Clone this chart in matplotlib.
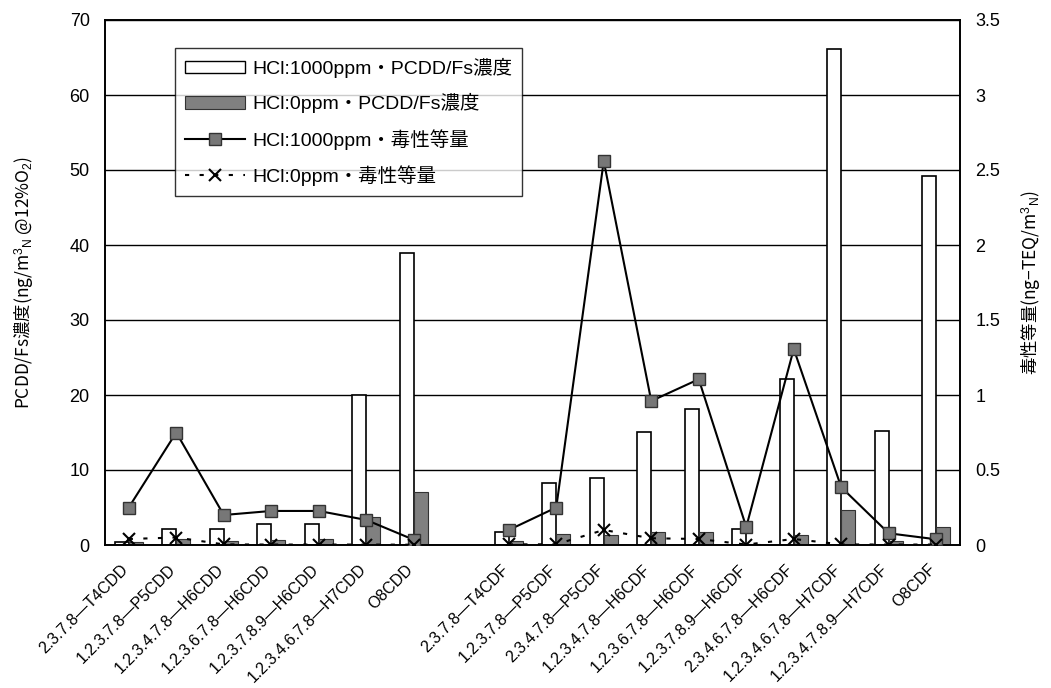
import numpy as np
import matplotlib
matplotlib.use("Agg")
import matplotlib.pyplot as plt
from matplotlib.patches import Patch
from matplotlib.lines import Line2D
from matplotlib.transforms import ScaledTranslation

plt.rcParams['font.family'] = ['Liberation Sans', 'Noto Sans CJK JP', 'DejaVu Sans']
plt.rcParams['mathtext.fontset'] = 'custom'
plt.rcParams['mathtext.rm'] = 'Liberation Sans'
plt.rcParams['mathtext.it'] = 'Liberation Sans:italic'

nan = np.nan
categories = ['2.3.7.8—T4CDD', '1.2.3.7.8—P5CDD', '1.2.3.4.7.8—H6CDD', '1.2.3.6.7.8—H6CDD',
              '1.2.3.7.8.9—H6CDD', '1.2.3.4.6.7.8—H7CDD', 'O8CDD', '',
              '2.3.7.8—T4CDF', '1.2.3.7.8—P5CDF', '2.3.4.7.8—P5CDF', '1.2.3.4.7.8—H6CDF',
              '1.2.3.6.7.8—H6CDF', '1.2.3.7.8.9—H6CDF', '2.3.4.6.7.8—H6CDF',
              '1.2.3.4.6.7.8—H7CDF', '1.2.3.4.7.8.9—H7CDF', 'O8CDF']
conc_1000 = [0.35, 2.1, 2.2, 2.8, 2.75, 20.0, 39.0, nan,
             1.7, 8.3, 9.0, 15.1, 18.1, 2.1, 22.1, 66.2, 15.2, 49.2]
conc_0 = [0.35, 0.85, 0.6, 0.65, 0.85, 3.8, 7.1, nan,
          0.5, 1.45, 1.4, 1.8, 1.7, 0.15, 1.3, 4.7, 0.6, 2.45]
teq_1000 = [0.25, 0.75, 0.2, 0.227, 0.227, 0.167, 0.035, nan,
            0.1, 0.25, 2.56, 0.96, 1.105, 0.12, 1.307, 0.385, 0.078, 0.038]
teq_0 = [0.04, 0.05, 0.004, 0.003, 0.003, 0.003, 0.002, nan,
         0.004, 0.005, 0.1, 0.045, 0.04, 0.003, 0.04, 0.004, 0.003, 0.003]

legend_labels = ['HCl:1000ppm・PCDD/Fs濃度', 'HCl:0ppm・PCDD/Fs濃度',
                 'HCl:1000ppm・毒性等量', 'HCl:0ppm・毒性等量']

fig = plt.figure(figsize=(10.51, 6.88), dpi=100)
ax = fig.add_axes([105/1051, 1-545/688, 855/1051, 525/688])
ax2 = ax.twinx()

x = np.arange(len(categories))
w = 0.29
gray = '#808080'
ax.bar(x - w/2, conc_1000, width=w, facecolor='white', edgecolor='black', linewidth=1.2, zorder=2)
ax.bar(x + w/2, conc_0, width=w, facecolor=gray, edgecolor='#333333', linewidth=0.8, zorder=2)

ax.set_xlim(-0.5, len(categories) - 0.5)
ax.set_ylim(0, 70)
ax.set_yticks(np.arange(0, 71, 10))
ax.yaxis.grid(True, color='black', linewidth=1.0, zorder=0)
ax.set_axisbelow(True)
ax.set_xticks(x)
ax.set_xticklabels(categories, rotation=45, ha='right', va='top',
                   rotation_mode='anchor', fontsize=11.5)
ax.tick_params(axis='x', length=0, pad=12)
shift = ScaledTranslation(-8/100, 0, fig.dpi_scale_trans)
for lbl in ax.get_xticklabels():
    lbl.set_transform(lbl.get_transform() + shift)
ax.tick_params(axis='y', labelsize=13, length=0, pad=11)

ax2.plot(x, teq_1000, color='black', linewidth=1.5, marker='s', markersize=8,
         markerfacecolor='#777777', markeredgecolor='#333333', zorder=3)
ax2.plot(x, teq_0, color='black', linewidth=1.5, linestyle=(0, (2, 5)), marker='x',
         markersize=9, markeredgewidth=1.5, zorder=3)
ax2.set_ylim(0, 3.5)
ax2.set_yticks(np.arange(0, 3.51, 0.5))
ax2.set_yticklabels(['0', '0.5', '1', '1.5', '2', '2.5', '3', '3.5'])
ax2.tick_params(axis='y', labelsize=13, length=0, pad=11)

for a in (ax, ax2):
    for s in a.spines.values():
        s.set_linewidth(1.2)

ax.set_ylabel(r'PCDD/Fs濃度(ng/m$^{3}$$_{\mathrm{N}}$ @12%O$_{2}$)', fontsize=12.5,
              labelpad=24, fontfamily='Noto Sans CJK JP')
ax2.set_ylabel(r'毒性等量(ng−TEQ/m$^{3}$$_{\mathrm{N}}$)', fontsize=12.5, labelpad=14,
               fontfamily='Noto Sans CJK JP')

handles = [
    Patch(facecolor='white', edgecolor='black', linewidth=1.0),
    Patch(facecolor=gray, edgecolor='#333333', linewidth=0.8),
    Line2D([], [], color='black', linewidth=1.5, marker='s', markersize=8,
           markerfacecolor='#777777', markeredgecolor='#333333'),
    Line2D([], [], color='black', linewidth=1.5, linestyle=(0, (2, 5)), marker='x',
           markersize=9, markeredgewidth=1.5),
]
leg = ax2.legend(handles, legend_labels, loc='upper left', bbox_to_anchor=(0.082, 0.947),
                 fontsize=14, frameon=True, fancybox=False, edgecolor='black',
                 handlelength=3.1, handleheight=0.6, handletextpad=0.35,
                 labelspacing=0.8, borderpad=0.5, borderaxespad=0)
leg.get_frame().set_linewidth(1.0)

fig.savefig('out.png', dpi=100)
